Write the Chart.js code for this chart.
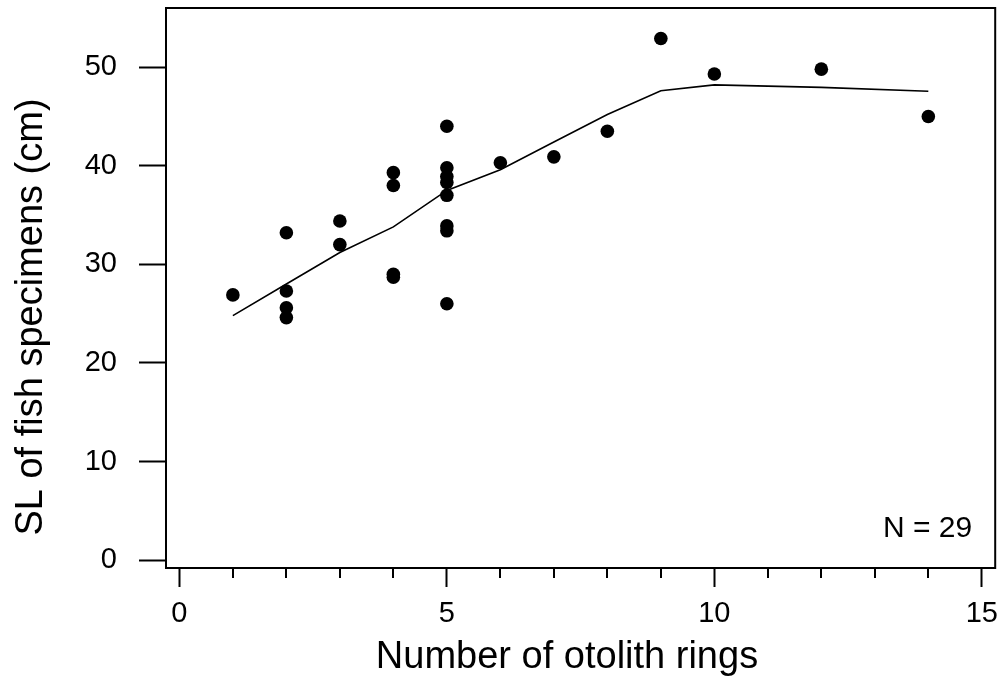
<!DOCTYPE html>
<html>
<head>
<meta charset="utf-8">
<title>SL vs otolith rings</title>
<script src="https://cdn.jsdelivr.net/npm/chart.js@4.4.1/dist/chart.umd.min.js"></script>
<style>
  html, body { margin: 0; padding: 0; background: #fff; }
  #wrap { width: 1002px; height: 678px; }
</style>
</head>
<body>
<div id="wrap"><canvas id="chart" width="1002" height="678"></canvas></div>
<script>
// observed specimens (rings vs standard length)
const ringsX = [1, 2, 2, 2, 2, 3, 3, 4, 4, 4, 4, 5, 5, 5, 5, 5, 5, 5, 5, 6, 7, 8, 9, 10, 12, 14];
const slY = [26.9, 33.2, 27.3, 25.6, 24.6, 34.4, 32.0, 39.3, 38.0, 29.0, 28.7,
             44.0, 39.8, 38.9, 38.3, 37.0, 33.9, 33.4, 26.0, 40.3, 40.9, 43.5, 52.9, 49.3, 49.8, 45.0];

// smoothed fit line
const fitX = [1, 2, 3, 4, 5, 6, 7, 8, 9, 10, 12, 14];
const fitY = [24.8, 28.0, 31.2, 33.8, 37.5, 39.6, 42.4, 45.2, 47.6, 48.2, 47.95, 47.55];

const xTicks = [0, 5, 10, 15];
const xMinorTicks = [1, 2, 3, 4, 6, 7, 8, 9, 11, 12, 13, 14];
const yTicks = [0, 10, 20, 30, 40, 50];

const xTitle = 'Number of otolith rings';
const yTitle = 'SL of fish specimens (cm)';
const nLabel = 'N = 29';

const FONT = '"Liberation Sans", Arial, Helvetica, sans-serif';

const extras = {
  id: 'extras',
  afterDraw(chart) {
    const { ctx, chartArea: a, scales: { x } } = chart;
    ctx.save();
    ctx.strokeStyle = '#000';
    ctx.lineWidth = 2;
    ctx.strokeRect(a.left, a.top, a.right - a.left, a.bottom - a.top);

    // minor ticks on x
    ctx.beginPath();
    xMinorTicks.forEach(v => {
      const px = Math.round(x.getPixelForValue(v));
      ctx.moveTo(px, a.bottom);
      ctx.lineTo(px, a.bottom + 10);
    });
    ctx.stroke();

    ctx.fillStyle = '#000';
    ctx.font = '30px ' + FONT;
    ctx.textAlign = 'right';
    ctx.textBaseline = 'alphabetic';
    ctx.fillText(nLabel, a.right - 23, a.bottom - 31);

    ctx.font = '38px ' + FONT;
    ctx.textAlign = 'center';
    ctx.fillText(xTitle, 567, 668);

    ctx.translate(42, 317);
    ctx.rotate(-Math.PI / 2);
    ctx.fillText(yTitle, 0, 0);
    ctx.restore();
  }
};

new Chart(document.getElementById('chart'), {
  type: 'scatter',
  data: {
    datasets: [
      {
        label: 'fit',
        type: 'line',
        data: fitX.map((v, i) => ({ x: v, y: fitY[i] })),
        borderColor: '#000',
        borderWidth: 1.6,
        pointRadius: 0,
        fill: false,
        tension: 0
      },
      {
        label: 'specimens',
        data: ringsX.map((v, i) => ({ x: v, y: slY[i] })),
        backgroundColor: '#000',
        borderWidth: 0,
        pointRadius: 6.8
      }
    ]
  },
  options: {
    responsive: false,
    animation: false,
    layout: { padding: { left: 0, top: 8, right: 5, bottom: 0 } },
    plugins: {
      legend: { display: false },
      tooltip: { enabled: false }
    },
    scales: {
      x: {
        type: 'linear',
        min: -0.25,
        max: 15.25,
        afterBuildTicks: s => { s.ticks = xTicks.map(v => ({ value: v })); },
        afterFit: s => { s.height = 110; s.paddingLeft = 0; s.paddingRight = 0; },
        border: { display: false },
        grid: { drawOnChartArea: false, drawTicks: true, tickLength: 19, tickWidth: 2, tickColor: '#000' },
        ticks: { color: '#000', font: { family: FONT, size: 29 }, padding: 10, maxRotation: 0, autoSkip: false }
      },
      y: {
        min: -0.8,
        max: 56,
        afterBuildTicks: s => { s.ticks = yTicks.map(v => ({ value: v })); },
        afterFit: s => { s.width = 166; s.paddingTop = 0; s.paddingBottom = 0; },
        border: { display: false },
        grid: { drawOnChartArea: false, drawTicks: true, tickLength: 27, tickWidth: 2, tickColor: '#000' },
        ticks: { color: '#000', font: { family: FONT, size: 29 }, padding: 22 }
      }
    }
  },
  plugins: [extras]
});
</script>
</body>
</html>
